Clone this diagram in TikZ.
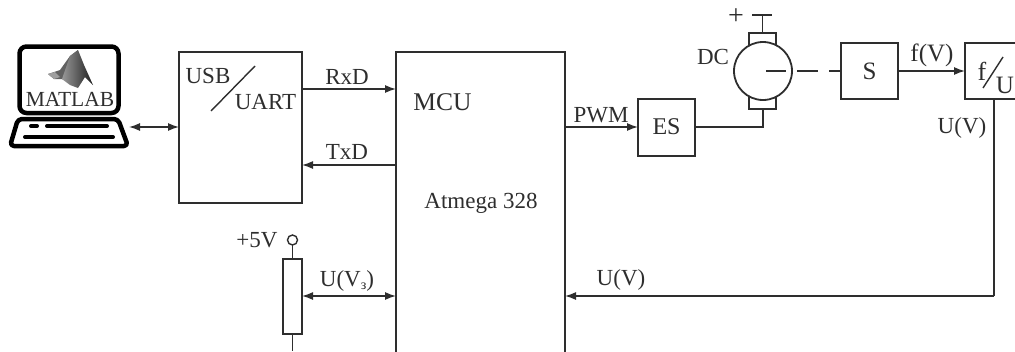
\documentclass[tikz,border=0pt]{standalone}
\usepackage{fontspec}
\setmainfont{Liberation Serif}
\usetikzlibrary{arrows.meta}
\definecolor{ink}{HTML}{2E2E2E}
\tikzset{
  wire/.style={draw=ink,line width=1.4pt},
  flow/.style={wire,-{Latex[length=11pt,width=8pt]}},
  biflow/.style={wire,{Latex[length=11pt,width=8pt]}-{Latex[length=11pt,width=8pt]}},
  blockbox/.style={draw=ink,line width=1.8pt,fill=white,inner sep=0pt,outer sep=0pt,anchor=north west},
  lbl/.style={text=ink,font=\fontsize{23}{23}\selectfont,inner sep=0pt},
  heavy/.style={draw=black,line width=4.5pt,line cap=round,line join=round},
}
\begin{document}
\begin{tikzpicture}[x=1pt,y=-1pt]
\useasboundingbox (0,0) rectangle (1015,351);
\clip (0,0) rectangle (1015,351);
% laptop
\draw[heavy,rounded corners=7pt] (19.5,46.5) rectangle (118.5,113);
\draw[heavy,rounded corners=4pt] (18,119) -- (118,119) -- (128,146) -- (10,146) -- cycle;
\coordinate (slotA) at (31,126); \coordinate (slotB) at (37,126);
\coordinate (slotC) at (47,126); \coordinate (slotD) at (107,126);
\coordinate (slotE) at (25,137); \coordinate (slotF) at (113,137);
\draw[black,line width=4pt,line cap=round] (slotA)--(slotB) (slotC)--(slotD) (slotE)--(slotF);
% logo
\fill[black!62] (48,74) -- (60,70) -- (70,56) -- (78,50) -- (72,84) -- (62,79) -- (54,79) -- cycle;
\shade[left color=black!40,right color=black!88] (62,79) -- (70,56) -- (78,50) -- (84,65) -- (93,85) -- (85,77) -- (78,88) -- (70,85) -- cycle;
\fill[black!38] (48,74) -- (55,72) -- (60,77) -- (54,79) -- cycle;
\node[lbl,font=\fontsize{21.5}{21.5}\selectfont] (matlab) at (70,99) {MATLAB};
% blocks
\node[blockbox,minimum width=123pt,minimum height=151pt] (usb) at (179,52) {};
\node[blockbox,minimum width=169pt,minimum height=320pt] (mcu) at (396,52) {};
\node[blockbox,minimum width=57pt,minimum height=57pt] (es) at (638,99) {};
\node[blockbox,minimum width=57pt,minimum height=56pt] (s) at (841,43) {};
\node[blockbox,minimum width=62pt,minimum height=56pt] (fu) at (965,43) {};
\node[blockbox,minimum width=19pt,minimum height=75pt] (res) at (283,259) {};
% block texts
\node[lbl] (usbt) at (208,76) {USB};
\node[lbl] (uartt) at (265.5,102) {UART};
\coordinate (usbA) at (211,111); \coordinate (usbB) at (255,66);
\draw[wire] (usbA) -- (usbB);
\node[lbl,font=\fontsize{25.5}{25.5}\selectfont] (mcut) at (442.5,102) {MCU};
\node[lbl,font=\fontsize{23}{23}\selectfont] (atm) at (481,203) {Atmega 328};
\node[lbl,font=\fontsize{24}{24}\selectfont] (est) at (666.5,127) {ES};
\node[lbl,font=\fontsize{25}{25}\selectfont] (st) at (869.5,71) {S};
\node[lbl,font=\fontsize{26}{26}\selectfont] (ft) at (982,71) {f};
\node[lbl,font=\fontsize{25}{25}\selectfont] (ut) at (1005,85) {U};
\coordinate (fuA) at (983,88); \coordinate (fuB) at (1003,57);
\draw[wire] (fuA) -- (fuB);
% arrows
\coordinate (lap) at (129,127);
\draw[biflow] (lap) -- (usb.west |- lap);
\coordinate (rxa) at (302,89); \coordinate (rxb) at (396,89);
\draw[flow] (rxa) -- (rxb);
\node[lbl] (rxd) at (347,77) {RxD};
\coordinate (txa) at (396,165); \coordinate (txb) at (302,165);
\draw[flow] (txa) -- (txb);
\node[lbl] (txd) at (347,152) {TxD};
\coordinate (pwa) at (565,127);
\draw[flow] (pwa) -- (es.west |- pwa);
\node[lbl] (pwm) at (601,115) {PWM};
% motor
\coordinate (mot) at (763,71);
\draw[wire,fill=white] (749,33) rectangle (776,46);
\draw[wire,fill=white] (749,96) rectangle (776,109);
\draw[draw=ink,line width=1.8pt,fill=white] (mot) circle (29);
\node[lbl] (dc) at (713,57) {DC};
\node[lbl,font=\fontsize{28}{28}\selectfont] (plus) at (736,17) {+};
\draw[wire] (752,15) -- (772,15) (762.5,15) -- (762.5,33);
\draw[wire] (es.east |- 0,127) -- (763,127) -- (763,109);
\draw[wire] (766,71) -- (786,71) (797,71) -- (818,71) (829,71) -- (s.west);
\draw[flow] (s.east) -- (fu.west |- s.east);
\node[lbl,font=\fontsize{25}{25}\selectfont] (fv) at (932,55) {f(V)};
% feedback
\coordinate (fb) at (994,296);
\draw[wire] (994,99) -- (fb);
\draw[flow] (fb) -- (565,296);
\node[lbl] (uv1) at (962,128) {U(V)};
\node[lbl] (uv2) at (621,280) {U(V)};
% pot
\node[lbl] (five) at (257,240) {+5V};
\node[draw=ink,line width=1.4pt,circle,minimum size=10pt,inner sep=0pt,outer sep=0pt,fill=white] (term) at (292.5,240) {};
\draw[wire] (term) -- (res.north);
\coordinate (potend) at (292.5,351);
\draw[wire] (res.south) -- (potend);
\coordinate (pota) at (302,296); \coordinate (potb) at (396,296);
\draw[biflow] (pota) -- (potb);
\node[lbl] (uv3) at (347,281) {U(V\raisebox{-3pt}{\fontsize{14}{14}\selectfont з})};
\end{tikzpicture}
\end{document}
